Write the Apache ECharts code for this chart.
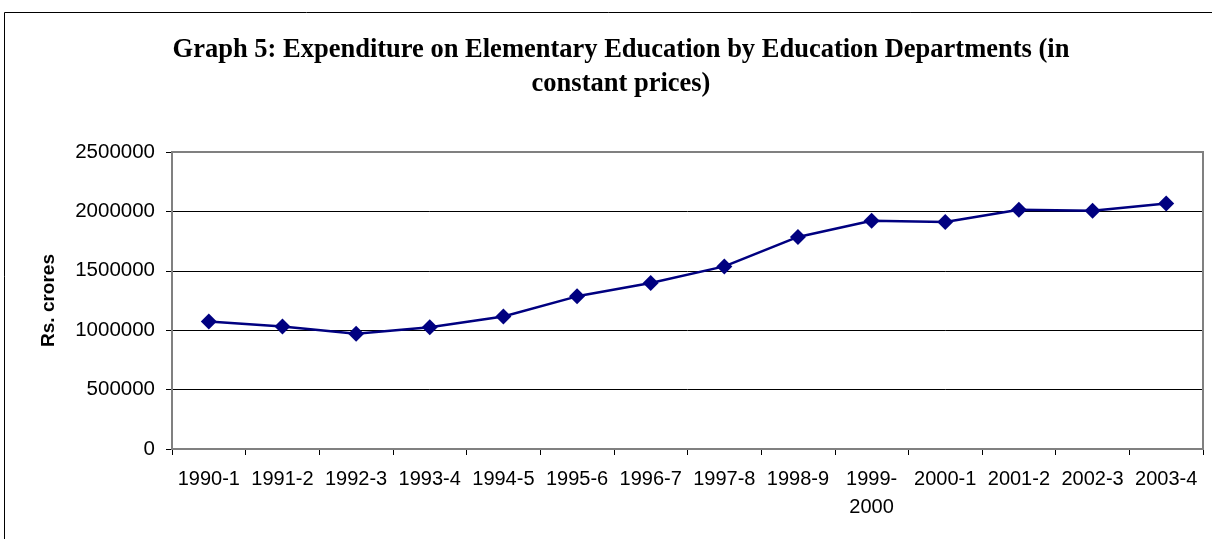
<!DOCTYPE html>
<html>
<head>
<meta charset="utf-8">
<script src="https://cdn.jsdelivr.net/npm/echarts@6/dist/echarts.min.js"></script>
<style>
  html, body { margin: 0; padding: 0; background: #fff; }
  #chart { width: 1212px; height: 539px; }
</style>
</head>
<body>
<div id="chart"></div>
<script>
// 年度类目与数值
var years = ['1990-1', '1991-2', '1992-3', '1993-4', '1994-5', '1995-6', '1996-7',
  '1997-8', '1998-9', '1999-\n2000', '2000-1', '2001-2', '2002-3', '2003-4'];
var expenditure = [1074000, 1032000, 970000, 1024000, 1116000, 1285000, 1397000,
  1537000, 1785000, 1922000, 1911000, 2014000, 2006000, 2067000];
var yTicks = [0, 500000, 1000000, 1500000, 2000000, 2500000];

var chart = echarts.init(document.getElementById('chart'));
var option = {
  backgroundColor: '#fff',
  animation: false,
  title: {
    text: 'Graph 5: Expenditure on Elementary Education by Education Departments (in\nconstant prices)',
    left: 616,
    textAlign: 'center',
    top: 28,
    textStyle: {
      fontFamily: 'Liberation Serif',
      fontWeight: 'bold',
      fontSize: 26.5,
      color: '#000',
      lineHeight: 34
    }
  },
  graphic: [{
    type: 'rect',
    shape: { x: 4.5, y: 12.5, width: 1220, height: 540 },
    style: { fill: null, stroke: '#000', lineWidth: 1 },
    silent: true
  }, {
    type: 'rect',
    shape: { x: 172, y: 152, width: 1031, height: 297 },
    style: { fill: null, stroke: '#808080', lineWidth: 2 },
    silent: true,
    z: 1
  }],
  grid: { left: 172, right: 9, top: 152, bottom: 90 },
  xAxis: {
    type: 'category',
    data: years,
    boundaryGap: true,
    axisLine: { lineStyle: { color: '#808080', width: 2 } },
    axisTick: { show: true, length: 6, lineStyle: { color: '#000' } },
    axisLabel: {
      interval: 0,
      margin: 16,
      fontFamily: 'Liberation Sans',
      fontSize: 20,
      color: '#000',
      lineHeight: 28
    }
  },
  yAxis: {
    type: 'value',
    min: yTicks[0],
    max: yTicks[yTicks.length - 1],
    interval: 500000,
    name: 'Rs. crores',
    nameLocation: 'middle',
    nameGap: 114,
    nameTextStyle: {
      fontFamily: 'Liberation Sans',
      fontWeight: 'bold',
      fontSize: 19,
      color: '#000'
    },
    axisLine: { show: true, lineStyle: { color: '#808080', width: 2 } },
    axisTick: { show: true, length: 6, lineStyle: { color: '#000' } },
    splitLine: { lineStyle: { color: '#000', width: 1 } },
    axisLabel: {
      margin: 17,
      fontFamily: 'Liberation Sans',
      fontSize: 20.5,
      color: '#000',
      formatter: function (v) { return String(v); }
    }
  },
  series: [{
    type: 'line',
    data: expenditure,
    symbol: 'diamond',
    symbolSize: 16,
    lineStyle: { color: '#000080', width: 2.5 },
    itemStyle: { color: '#000080' },
    z: 3
  }]
};
chart.setOption(option);
</script>
</body>
</html>
